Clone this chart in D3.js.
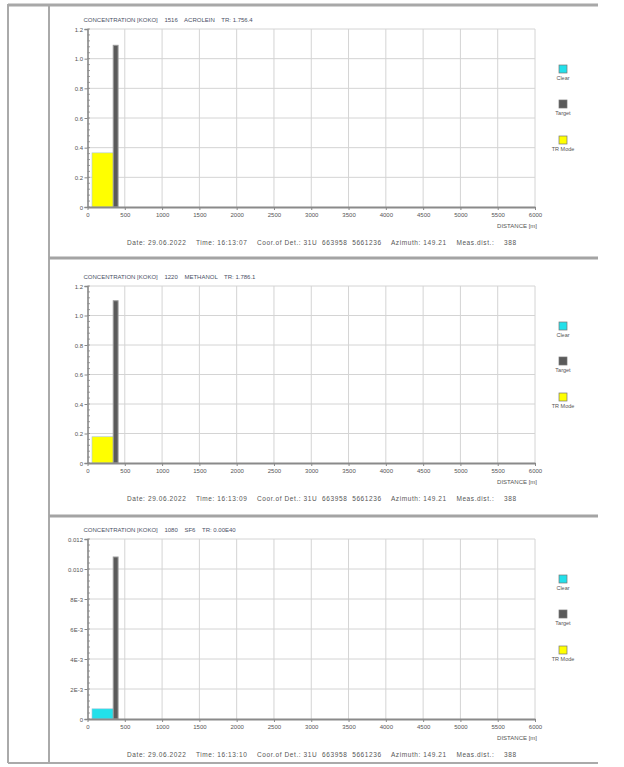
<!DOCTYPE html>
<html><head><meta charset="utf-8">
<script src="https://cdn.jsdelivr.net/npm/d3@7"></script>
<style>html,body{margin:0;padding:0;background:#fff;}svg{display:block;font-family:"Liberation Sans",Arial,sans-serif;}</style>
</head><body>
<svg id="c" width="624" height="767"></svg>
<script>
// ---- data ----
const panelTitles = [
  "CONCENTRATION [KOKO]    1516    ACROLEIN    TR: 1.756.4",
  "CONCENTRATION [KOKO]    1220    METHANOL    TR: 1.786.1",
  "CONCENTRATION [KOKO]    1080    SF6    TR: 0.00E40"
];
const footers = [
  "Date: 29.06.2022    Time: 16:13:07    Coor.of Det.: 31U  663958  5661236    Azimuth: 149.21    Meas.dist.:    388",
  "Date: 29.06.2022    Time: 16:13:09    Coor.of Det.: 31U  663958  5661236    Azimuth: 149.21    Meas.dist.:    388",
  "Date: 29.06.2022    Time: 16:13:10    Coor.of Det.: 31U  663958  5661236    Azimuth: 149.21    Meas.dist.:    388"
];
const yMax = [1.2, 1.2, 0.012];
const yTickValues = [
  [0, 0.2, 0.4, 0.6, 0.8, 1.0, 1.2],
  [0, 0.2, 0.4, 0.6, 0.8, 1.0, 1.2],
  [0, 0.002, 0.004, 0.006, 0.008, 0.010, 0.012]
];
const yTickLabels = [
  ["0", "0.2", "0.4", "0.6", "0.8", "1.0", "1.2"],
  ["0", "0.2", "0.4", "0.6", "0.8", "1.0", "1.2"],
  ["0", "2E-3", "4E-3", "6E-3", "8E-3", "0.010", "0.012"]
];
const xTicks = [0, 500, 1000, 1500, 2000, 2500, 3000, 3500, 4000, 4500, 5000, 5500, 6000];
const xLabel = "DISTANCE [m]";
const legendItems = ["Clear", "Target", "TR Mode"];
// concentration bar (category, from-to distance, value) per panel
const barCategory = ["TR Mode", "TR Mode", "Clear"];
const barFrom = [60, 60, 60];
const barTo = [345, 345, 345];
const barValues = [0.365, 0.178, 0.00068];
// target bar per panel
const targetFrom = [345, 345, 345];
const targetTo = [410, 410, 410];
const targetValues = [1.09, 1.10, 0.0108];

// ---- styles / layout ----
const colors = {"Clear": "#22e0ea", "Target": "#5a5a5a", "TR Mode": "#ffff00"};
const panels = [
  {top: 4, bottom: 258, plotTop: 29, plotBottom: 207},
  {top: 258, bottom: 516, plotTop: 286, plotBottom: 463},
  {top: 516, bottom: 763, plotTop: 539, plotBottom: 719}
];
const frameL = 8, innerX = 49, frameR = 598;
const plotL = 87.5, plotR = 535;

const svg = d3.select("#c");
const x = d3.scaleLinear().domain([0, 6000]).range([plotL, plotR]);

// frame
const fg = svg.append("g");
fg.append("line").attr("x1", frameL).attr("x2", frameL).attr("y1", 4).attr("y2", 763).attr("stroke", "#aaa").attr("stroke-width", 2);
fg.append("line").attr("x1", innerX).attr("x2", innerX).attr("y1", 4).attr("y2", 763).attr("stroke", "#aaa").attr("stroke-width", 2);
fg.append("line").attr("x1", frameL).attr("x2", frameR).attr("y1", 5).attr("y2", 5).attr("stroke", "#a8a8a8").attr("stroke-width", 3);
fg.append("line").attr("x1", frameL).attr("x2", frameR).attr("y1", 763).attr("y2", 763).attr("stroke", "#aaa").attr("stroke-width", 2);
[258, 516].forEach(yy => {
  fg.append("line").attr("x1", innerX).attr("x2", frameR).attr("y1", yy).attr("y2", yy).attr("stroke", "#a4a4a4").attr("stroke-width", 3);
});

panels.forEach((p, i) => {
  const g = svg.append("g");
  const y = d3.scaleLinear().domain([0, yMax[i]]).range([p.plotBottom, p.plotTop]);

  // vertical grid
  g.append("g").selectAll("line").data(xTicks.slice(1)).join("line")
    .attr("x1", d => x(d)).attr("x2", d => x(d))
    .attr("y1", p.plotTop).attr("y2", p.plotBottom)
    .attr("stroke", "#d4d4d4").attr("stroke-width", 1);
  // horizontal grid
  g.append("g").selectAll("line").data(yTickValues[i].slice(1)).join("line")
    .attr("x1", plotL).attr("x2", plotR)
    .attr("y1", d => y(d)).attr("y2", d => y(d))
    .attr("stroke", "#d4d4d4").attr("stroke-width", 1);

  // bars
  g.append("rect")
    .attr("x", x(barFrom[i])).attr("width", x(barTo[i]) - x(barFrom[i]))
    .attr("y", y(barValues[i])).attr("height", y(0) - y(barValues[i]))
    .attr("fill", colors[barCategory[i]]).attr("stroke", "#aac8dd").attr("stroke-width", 0.6);
  g.append("rect")
    .attr("x", x(targetFrom[i])).attr("width", x(targetTo[i]) - x(targetFrom[i]))
    .attr("y", y(targetValues[i])).attr("height", y(0) - y(targetValues[i]))
    .attr("fill", colors["Target"]).attr("stroke", "#9a9a9a").attr("stroke-width", 1);

  // y axis
  const minor = d3.range(0, 31).map(k => yMax[i] * k / 30);
  g.append("g").selectAll("line").data(minor).join("line")
    .attr("x1", plotL).attr("x2", plotL + 2.5)
    .attr("y1", d => y(d)).attr("y2", d => y(d))
    .attr("stroke", "#888").attr("stroke-width", 0.8);
  const yAxis = d3.axisLeft(y).tickValues(yTickValues[i]).tickSize(3)
    .tickFormat((d, k) => yTickLabels[i][k]);
  const ya = g.append("g").attr("transform", `translate(${plotL},0)`).call(yAxis);
  ya.select(".domain").attr("stroke", "#888").attr("stroke-width", 1.6);
  ya.selectAll(".tick line").attr("stroke", "#888").attr("stroke-width", 1);
  ya.selectAll("text").attr("font-size", 6).attr("fill", "#555").attr("x", -4.5).attr("dy", "0.35em");

  // x axis
  const xAxis = d3.axisBottom(x).tickValues(xTicks).tickSize(3).tickSizeOuter(0).tickFormat(d3.format("d"));
  const xa = g.append("g").attr("transform", `translate(0,${p.plotBottom})`).call(xAxis);
  xa.select(".domain").attr("stroke", "#8a8a8a").attr("stroke-width", 2);
  xa.selectAll(".tick line").attr("stroke", "#888").attr("stroke-width", 1);
  xa.selectAll("text").attr("font-size", 6).attr("fill", "#555").attr("y", 6).attr("dy", "0.71em");

  g.append("text").attr("x", plotR + 2).attr("y", p.plotBottom + 21)
    .attr("text-anchor", "end").attr("font-size", 6).attr("fill", "#555").text(xLabel);

  // title
  g.append("text").attr("x", plotL - 4).attr("y", p.plotTop - 7)
    .attr("font-size", 6).attr("fill", "#4a4f66")
    .style("white-space", "pre").text(panelTitles[i]);

  // footer
  g.append("text").attr("x", 127).attr("y", p.plotBottom + 38)
    .attr("font-size", 6.5).attr("fill", "#555")
    .attr("textLength", 389).attr("lengthAdjust", "spacing")
    .style("white-space", "pre").text(footers[i]);

  // legend
  const offs = [40, 75, 111];
  const lg = g.append("g");
  legendItems.forEach((name, k) => {
    const cy = p.plotTop + offs[k];
    lg.append("rect").attr("x", 559).attr("y", cy - 4).attr("width", 8).attr("height", 8)
      .attr("fill", colors[name]).attr("stroke", "#777").attr("stroke-width", 0.7);
    lg.append("text").attr("x", 563).attr("y", cy + 11).attr("text-anchor", "middle")
      .attr("font-size", 5.5).attr("fill", "#555").text(name);
  });
});
</script>
</body></html>
